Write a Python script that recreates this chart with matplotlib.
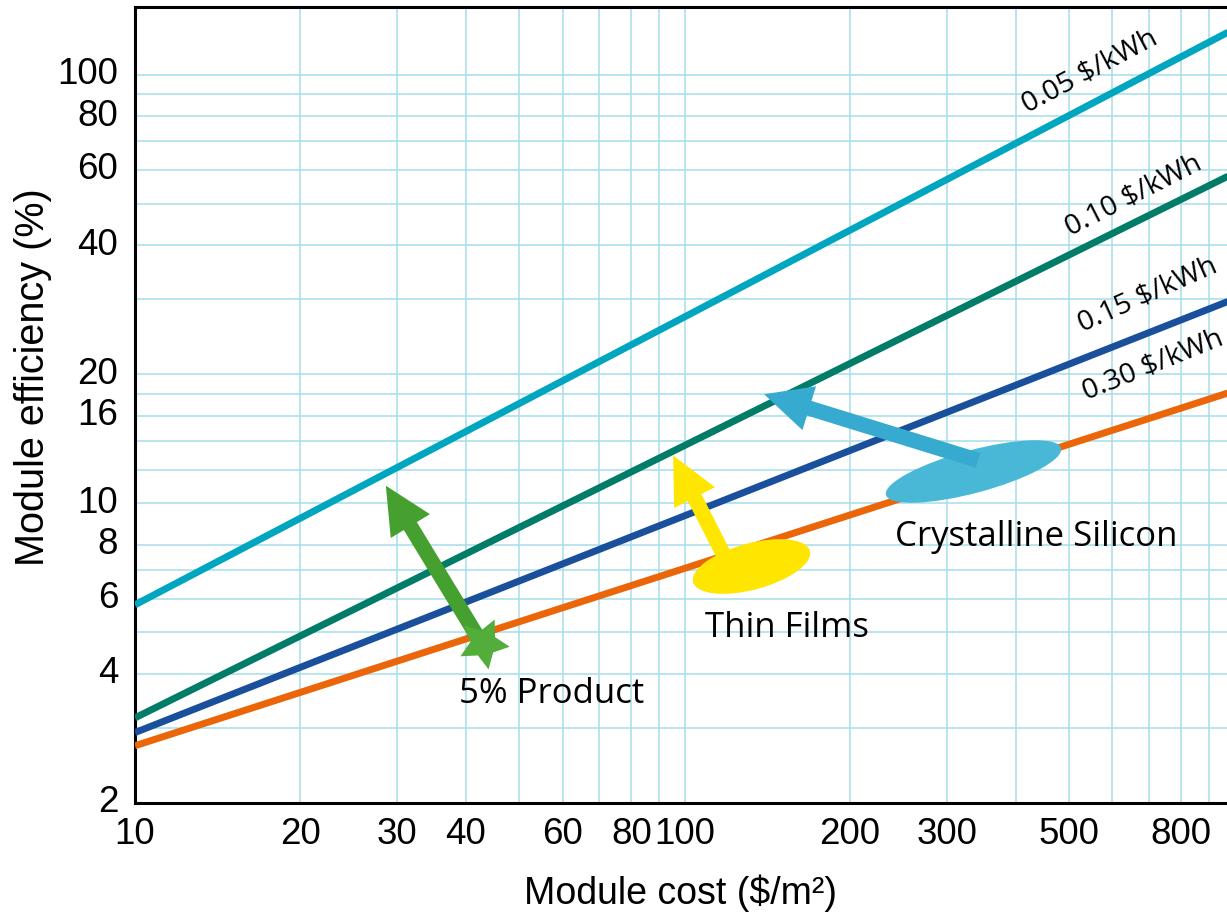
import numpy as np
import matplotlib.pyplot as plt
from matplotlib.patches import FancyArrowPatch
from matplotlib.path import Path
from matplotlib.transforms import Affine2D
from matplotlib.ticker import FixedLocator, FuncFormatter

# Datos (coste del módulo vs eficiencia)
coste = [10, 1000]
precios = ["0.05 $/kWh", "0.10 $/kWh", "0.15 $/kWh", "0.30 $/kWh"]
efic_005 = [5.8, 128]
efic_010 = [3.16, 59]
efic_015 = [2.92, 30]
efic_030 = [2.72, 18.3]
colores = ["#00a6c0", "#007c69", "#1a4f9c", "#eb6509"]

# Rejilla y etiquetas de los ejes
x_grid = [10, 20, 30, 40, 50, 60, 70, 80, 90, 100, 200, 300, 400, 500, 600, 700, 800, 900]
x_etiquetas = [10, 20, 30, 40, 60, 80, 100, 200, 300, 500, 800]
y_grid = [2, 3, 4, 5, 6, 7, 8, 10, 12, 14, 16, 18, 20, 30, 40, 50, 60, 70, 80, 90, 100]
y_etiquetas = [2, 4, 6, 8, 10, 16, 20, 40, 60, 80, 100]

# Tecnologías: flechas (cola -> punta) y elipses
tecnologias = ["Crystalline Silicon", "Thin Films", "5% Product"]
flecha_cola = [(342, 12.6), (120, 7.24), (42.1, 4.86)]
flecha_punta = [(139.5, 17.98), (95.3, 12.94), (28.6, 11.0)]
centro_forma = [(335, 11.9), (132, 7.16), (43.0, 4.73)]
pos_texto = [(436, 8.37), (153.6, 5.11), (57.2, 3.60)]
col_flecha = ["#36abcf", "#ffe600", "#45a030"]
col_forma = ["#48b8d6", "#ffe600", "#52ad3a"]

# posiciones de las etiquetas de cada recta
pos_precio = [(547, 101.6), (655, 52.4), (697, 30.6), (712, 21.0)]
rot_precio = [28, 27, 24, 22]

fig = plt.figure(figsize=(12.27, 9.14), dpi=100)
ax = fig.add_axes([135 / 1227, 1 - 803 / 914, 1 - 135 / 1227, 796 / 914])
ax.set_xscale("log")
ax.set_yscale("log")
ax.set_xlim(10, 970)
ax.set_ylim(2, 144)

fuente_ejes = "Liberation Sans"
fuente_notas = "Open Sans"

ax.xaxis.set_major_locator(FixedLocator(x_grid))
ax.yaxis.set_major_locator(FixedLocator(y_grid))
ax.xaxis.set_minor_locator(FixedLocator([]))
ax.yaxis.set_minor_locator(FixedLocator([]))
ax.xaxis.set_major_formatter(FuncFormatter(lambda v, p: f"{v:g}" if round(v) in x_etiquetas else ""))
ax.yaxis.set_major_formatter(FuncFormatter(lambda v, p: f"{v:g}" if round(v) in y_etiquetas else ""))
ax.tick_params(length=0, labelsize=26.5)
ax.tick_params(axis="x", pad=10)
ax.tick_params(axis="y", pad=12)
for lab in ax.get_xticklabels() + ax.get_yticklabels():
    lab.set_fontfamily(fuente_ejes)
for lab in ax.get_yticklabels():
    lab.set_verticalalignment("center")
ax.grid(True, color="#a6dde9", linewidth=1.1, zorder=0)
ax.set_axisbelow(True)

for s in ["left", "bottom", "top"]:
    ax.spines[s].set_linewidth(2.2)
ax.spines["right"].set_visible(False)

# Rectas de coste de la energía
for efic, col in zip([efic_005, efic_010, efic_015, efic_030], colores):
    ax.plot(coste, efic, color=col, linewidth=5, solid_capstyle="butt", zorder=3)

for txt, (px, py), rot in zip(precios, pos_precio, rot_precio):
    ax.text(px, py, txt.replace("$", "\\$"), rotation=rot, rotation_mode="anchor",
            ha="center", va="center", fontsize=20.5, family=fuente_notas, zorder=5)

# Elipses (como marcadores) para silicio y capa fina
circ = Path.unit_circle()
elipse_si = circ.transformed(Affine2D().scale(1, 21 / 89).rotate_deg(15))
elipse_tf = circ.transformed(Affine2D().scale(1, 23 / 60).rotate_deg(15))
ax.plot(*centro_forma[0], marker=elipse_si, markersize=178 * 0.72, color=col_forma[0],
        markeredgewidth=0, zorder=4)
ax.plot(*centro_forma[1], marker=elipse_tf, markersize=120 * 0.72, color=col_forma[1],
        markeredgewidth=0, zorder=4)

# Flechas
for cola, punta, col in zip(flecha_cola, flecha_punta, col_flecha):
    fl = FancyArrowPatch(cola, punta, transform=ax.transData,
                         arrowstyle="simple,head_length=34,head_width=33,tail_width=11",
                         mutation_scale=1, color=col, linewidth=0, shrinkA=0, shrinkB=0, zorder=5)
    ax.add_patch(fl)

# estrella del producto 5%
ax.plot(*centro_forma[2], marker=(5, 1, -25), markersize=38, color=col_forma[2],
        markeredgewidth=0, zorder=6)

for txt, (px, py) in zip(tecnologias, pos_texto):
    ax.text(px, py, txt, ha="center", va="center", fontsize=25, family=fuente_notas, zorder=6)

ax.set_xlabel("Module cost (\\$/m²)", fontsize=27, family=fuente_ejes, labelpad=16)
ax.set_ylabel("Module efficiency (%)", fontsize=28.5, family=fuente_ejes)
ax.yaxis.set_label_coords(-0.076, 0.535)

fig.savefig("out.png", dpi=100)
